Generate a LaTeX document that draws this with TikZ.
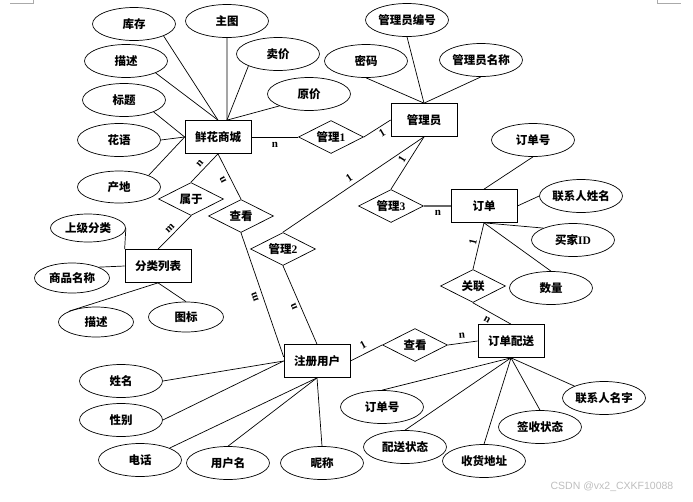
\documentclass[tikz,border=0pt]{standalone}
\usepackage{fontspec}
\setmainfont{Liberation Serif}
\setsansfont{Liberation Sans}
\newfontfamily\zh{Noto Sans CJK SC}
\usetikzlibrary{shapes.geometric}
\definecolor{wm}{RGB}{190,190,190}
\definecolor{markgray}{RGB}{170,170,170}
\tikzset{
  base/.style={draw=black, line width=0.7pt, inner sep=0pt, font=\zh\bfseries\fontsize{11.5}{12}\selectfont},
  ent/.style={base, rectangle, minimum width=66pt, minimum height=33pt},
  rel/.style={base, diamond, aspect=2, minimum width=65pt, minimum height=33pt},
  attr/.style={base, ellipse, minimum width=83pt, minimum height=33pt},
  sattr/.style={base, ellipse, minimum width=75pt, minimum height=30pt},
  card/.style={font=\rmfamily\bfseries\fontsize{11}{11}\selectfont, inner sep=0pt},
  conn/.style={line width=0.7pt},
}
\begin{document}
\begin{tikzpicture}[x=1pt,y=-1pt]
\useasboundingbox (0,0) rectangle (693,501);
% corner marks
\draw[markgray, line width=0.6pt] (10,3) -- (33,3) -- (33,0);
\draw[markgray, line width=0.6pt] (657,0) -- (657,3) -- (681,3);

% entities
\node[ent] (shop)  at (218,137) {鲜花商城};
\node[ent] (mgr)   at (424,120) {管理员};
\node[ent] (order) at (484,206) {订单};
\node[ent] (cat)   at (158,266) {分类列表};
\node[ent] (user)  at (317,361) {注册用户};
\node[ent] (dist)  at (511,341) {订单配送};

% relationships
\node[rel] (r1)    at (331,137) {管理{\rmfamily 1}};
\node[rel] (shuyu) at (191,199) {属于};
\node[rel] (ck1)   at (241,216) {查看};
\node[rel] (r2)    at (283,249) {管理{\rmfamily 2}};
\node[rel] (r3)    at (391,206) {管理{\rmfamily 3}};
\node[rel] (gl)    at (473,286) {关联};
\node[rel] (ck2)   at (415,345) {查看};

% attributes of shop
\node[attr] (kc)  at (134,24)  {库存};
\node[attr] (zt)  at (227,21)  {主图};
\node[attr] (ms1) at (126,61)  {描述};
\node[attr] (mj)  at (278,54)  {卖价};
\node[attr] (bt)  at (124,100) {标题};
\node[attr] (yj)  at (309,94)  {原价};
\node[attr] (hy)  at (119,140) {花语};
\node[attr, minimum height=32pt] (cd)  at (119,187) {产地};
% attributes of category
\node[sattr, minimum height=28pt] (sjfl) at (88,228)  {上级分类};
\node[sattr] (spmc) at (72,278)  {商品名称};
\node[sattr] (ms2)  at (96,322)  {描述};
\node[sattr] (tb)   at (186,317) {图标};
% attributes of admin
\node[attr] (bh) at (407,20) {管理员编号};
\node[attr] (mm) at (366,61) {密码};
\node[attr] (mc) at (481,60) {管理员名称};
% attributes of order
\node[attr] (ddh1) at (533,140) {订单号};
\node[attr] (lxr)  at (581,196) {联系人姓名};
\node[attr] (mjid) at (573,240) {买家{\rmfamily ID}};
\node[attr] (sl)   at (551,288) {数量};
% attributes of user
\node[attr] (xm)  at (121,381) {姓名};
\node[attr] (xb)  at (121,420) {性别};
\node[attr] (dh)  at (140,460) {电话};
\node[attr] (yhm) at (228,463) {用户名};
\node[attr] (nc)  at (322,463) {昵称};
% attributes of delivery
\node[attr] (ddh2) at (382,407) {订单号};
\node[attr] (pszt) at (405,447) {配送状态};
\node[attr] (shdz) at (484,461) {收货地址};
\node[attr] (qszt) at (540,427) {签收状态};
\node[attr] (lxmz) at (604,398) {联系人名字};

% connectors: shop attributes
\draw[conn] (kc.south east) -- (shop.north);
\draw[conn] (ms1.south east) -- (shop.north);
\draw[conn] (zt.south) -- (shop.62);
\draw[conn] (mj.south west) -- (shop.62);
\draw[conn] (yj.south west) -- (shop.62);
\draw[conn] (bt.south east) -- (shop.west);
\draw[conn] (hy.east) -- (shop.west);
\draw[conn] (cd.north east) -- (shop.west);
% category attributes
\draw[conn] (sjfl.east) -- (cat.north west);
\draw[conn] (spmc.north east) -- (cat.west);
\draw[conn] (ms2.north west) -- (cat.south);
\draw[conn] (tb.north) -- (cat.south);
% admin attributes
\draw[conn] (bh.south) -- (mgr.north);
\draw[conn] (mm.south) -- (mgr.north);
\draw[conn] (mc.south) -- (mgr.north);
% order attributes
\draw[conn] (ddh1.south) -- (order.north);
\draw[conn] (lxr.west) -- (order.east);
\draw[conn] (mjid.north west) -- (order.south);
\draw[conn] (sl.north) -- (order.south);
% user attributes
\draw[conn] (xm.east) -- (user.west);
\draw[conn] (xb.east) -- (user.west);
\draw[conn] (dh.north east) -- (user.south);
\draw[conn] (yhm.north) -- (user.south);
\draw[conn] (nc.north) -- (user.south);
% delivery attributes
\draw[conn] (ddh2.north) -- (dist.south);
\draw[conn] (pszt.north) -- (dist.south);
\draw[conn] (shdz.north) -- (dist.south);
\draw[conn] (qszt.north) -- (dist.south);
\draw[conn] (lxmz.north west) -- (dist.south);

% relationship connectors
\draw[conn] (shop.east) -- (r1.west);
\draw[conn] (r1.east) -- (mgr.west);
\draw[conn] (mgr.south) -- (r2.north);
\draw[conn] (mgr.south) -- (r3.north);
\draw[line width=1.2pt, black!60] (r3.east) -- (order.west);
\draw[conn] (order.south) -- (gl.north);
\draw[conn] (gl.south) -- (dist.north);
\draw[conn] (shop.south) -- (shuyu.north);
\draw[conn] (shuyu.south) -- (cat.north);
\draw[conn] (shop.south) -- (ck1.north);
\draw[conn] (ck1.south) -- (user.173);
\draw[conn] (r2.south) -- (user.north);
\draw[conn] (user.east) -- (ck2.west);
\draw[conn] (ck2.east) -- (dist.west);

% cardinalities
\node[card] (c1)  at (275,145) {n};
\node[card, rotate=31] (c2)  at (382,133) {1};
\node[card, rotate=34] (c3)  at (349,178) {1};
\node[card, rotate=58] (c4)  at (402,159) {1};
\node[card] (c5)  at (438,213) {n};
\node[card, rotate=77] (c6)  at (473,242) {1};
\node[card, rotate=-29] (c7) at (487,320) {n};
\node[card, rotate=5] (c8)   at (462,336) {n};
\node[card, rotate=29] (c9)  at (363,345) {1};
\node[card, rotate=49] (c10) at (200,163) {n};
\node[card, rotate=117] (c11) at (223,180) {n};
\node[card, rotate=45] (c12) at (170,228) {m};
\node[card, rotate=109] (c13) at (255,297) {m};
\node[card, rotate=113] (c14) at (294,307) {n};

% watermark
\node[font=\sffamily\fontsize{10.5}{11}\selectfont, text=wm, inner sep=0pt] (wmk) at (612,487) {CSDN @vx2\_CXKF10088};
\end{tikzpicture}
\end{document}
